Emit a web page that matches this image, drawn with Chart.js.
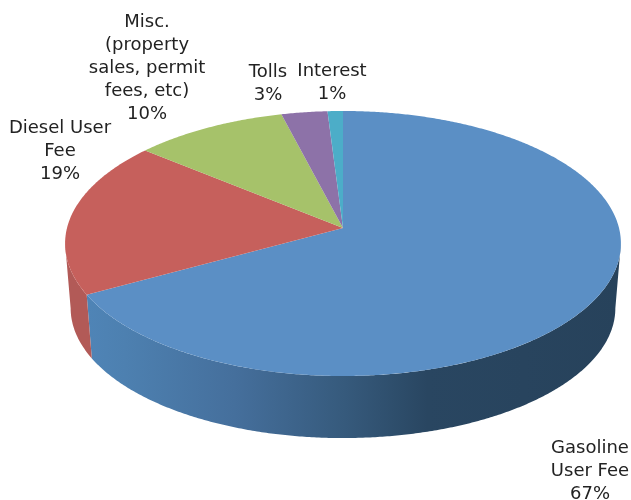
<!DOCTYPE html>
<html>
<head>
<meta charset="utf-8">
<title>Revenue sources</title>
<script src="https://cdn.jsdelivr.net/npm/chart.js@4"></script>
<style>
  html, body { margin: 0; padding: 0; background: #fff; }
  canvas { display: block; }
</style>
</head>
<body>
<canvas id="chart" width="631" height="500"></canvas>
<script>
/* 3D look pie: Chart.js works out the slice angles, the plugin below projects them */

const categories = ['Gasoline User Fee', 'Diesel User Fee', 'Misc. (property sales, permit fees, etc)', 'Tolls', 'Interest'];
const shares = [67, 19, 10, 3, 1];
const labelLines = [
  ['Gasoline', 'User Fee'],
  ['Diesel User', 'Fee'],
  ['Misc.', '(property', 'sales, permit', 'fees, etc)'],
  ['Tolls'],
  ['Interest'],
];
const topColors = ['#5b8fc5', '#c6605c', '#a6c26a', '#8d72a8', '#4cadc8'];

// centre of each label block, first line baseline
const labelSpots = [
  [590, 453],
  [60, 133],
  [147, 27],
  [268, 77],
  [332, 76],
];

const LINE_H = 23;
const TILT = 0.117;       // perspective strength
const SX = 276 / 228;     // horizontal stretch of the circle
const SY = 130.7 / 228;   // vertical squash
const DEPTH_Y = 65;       // bottom rim offset
const BOTTOM_SCALE = 0.98;
const WALL_FROM = 6.7 * Math.PI / 180;   // rim's widest points, the wall is hidden past them
const WALL_TO = 173.3 * Math.PI / 180;

function rimPoint(arc, a, bottom) {
  const u = Math.cos(a);
  const v = Math.sin(a);
  const w = 1 - TILT * v;
  const k = bottom ? BOTTOM_SCALE : 1;
  const r = arc.outerRadius;
  return [
    arc.x + (k * SX * r * u) / w,
    arc.y + (bottom ? DEPTH_Y : 0) + (k * SY * r * v) / w,
  ];
}

function arcSteps(from, to) {
  const n = Math.max(2, Math.ceil((to - from) / 0.008));
  const out = [];
  for (let i = 0; i <= n; i++) out.push(from + ((to - from) * i) / n);
  return out;
}

function wallFill(ctx, index) {
  const g = ctx.createLinearGradient(70, 0, 620, 0);
  if (index === 0) {
    g.addColorStop(0, '#5086b9');
    g.addColorStop(0.1, '#4d80b0');
    g.addColorStop(0.3, '#456f9c');
    g.addColorStop(0.5, '#365a7c');
    g.addColorStop(0.65, '#294661');
    g.addColorStop(1, '#27425b');
  } else {
    g.addColorStop(0, '#b25a57');
    g.addColorStop(1, '#b25a57');
  }
  return g;
}

const projectedPie = {
  id: 'projectedPie',
  beforeDatasetDraw(chart, args) {
    const ctx = chart.ctx;
    const arcs = args.meta.data;

    // side wall
    arcs.forEach((arc, i) => {
      const from = Math.max(arc.startAngle, WALL_FROM);
      const to = Math.min(arc.endAngle, WALL_TO);
      if (to <= from) return;
      const steps = arcSteps(from, to);
      ctx.beginPath();
      steps.forEach((a) => {
        const p = rimPoint(arc, a, false);
        ctx.lineTo(p[0], p[1]);
      });
      steps.slice().reverse().forEach((a) => {
        const p = rimPoint(arc, a, true);
        ctx.lineTo(p[0], p[1]);
      });
      ctx.closePath();
      ctx.fillStyle = wallFill(ctx, i);
      ctx.fill();
    });

    // top face
    arcs.forEach((arc, i) => {
      ctx.beginPath();
      ctx.moveTo(arc.x, arc.y);
      arcSteps(arc.startAngle, arc.endAngle).forEach((a) => {
        const p = rimPoint(arc, a, false);
        ctx.lineTo(p[0], p[1]);
      });
      ctx.closePath();
      ctx.fillStyle = topColors[i];
      ctx.fill();
    });
    return false;
  },
  afterDatasetsDraw(chart) {
    const ctx = chart.ctx;
    ctx.save();
    ctx.font = '18px "DejaVu Sans"';
    ctx.fillStyle = '#222';
    ctx.textAlign = 'center';
    ctx.textBaseline = 'alphabetic';
    labelLines.forEach((lines, i) => {
      const spot = labelSpots[i];
      const all = lines.concat(shares[i] + '%');
      all.forEach((line, j) => ctx.fillText(line, spot[0], spot[1] + j * LINE_H));
    });
    ctx.restore();
  },
};

function init() {
  new Chart(document.getElementById('chart'), {
    type: 'pie',
    data: {
      labels: categories,
      datasets: [{ data: shares, backgroundColor: topColors, borderWidth: 0 }],
    },
    options: {
      responsive: false,
      animation: false,
      devicePixelRatio: 1,
      layout: { padding: { left: 55, right: 0, top: 0, bottom: 44 } },
      plugins: {
        legend: { display: false },
        tooltip: { enabled: false },
      },
    },
    plugins: [projectedPie],
  });
}

document.addEventListener('DOMContentLoaded', init);
</script>
</body>
</html>
